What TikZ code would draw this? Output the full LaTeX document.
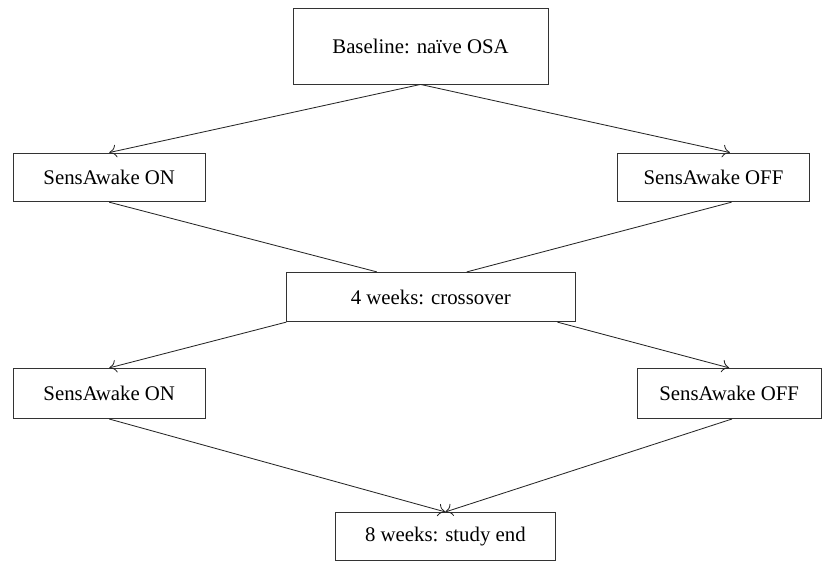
\documentclass[tikz,border=0pt]{standalone}
\usepackage{fontspec}
\setmainfont{Liberation Serif}
\usetikzlibrary{calc,arrows.meta}

\begin{document}
\begin{tikzpicture}[box/.style={draw=black!80,line width=0.6pt,inner sep=0pt,minimum height=1.22cm,font=\fontsize{14.8}{18}\selectfont},
  link/.style={black!85,line width=0.6pt},
  tip/.style={-{To[length=1.8mm,width=3.2mm]}}]
\useasboundingbox (0,0) rectangle (20.55,-14.075);
\node[box,minimum width=6.375cm,minimum height=1.9cm] (base) at (10.5125,-1.15) {Baseline: naïve OSA};
\node[box,minimum width=4.81cm] (onA) at (2.731,-4.434) {SensAwake ON};
\node[box,minimum width=4.82cm] (offA) at (17.8375,-4.434) {SensAwake OFF};
\node[box,minimum width=7.21cm,minimum height=1.235cm] (cross) at (10.771,-7.425) {4 weeks: crossover};
\node[box,minimum width=4.81cm,minimum height=1.257cm] (onB) at (2.731,-9.836) {SensAwake ON};
\node[box,minimum width=4.59cm,minimum height=1.257cm] (offB) at (18.229,-9.836) {SensAwake OFF};
\node[box,minimum width=5.52cm,minimum height=1.19cm] (stop) at (11.134,-13.404) {8 weeks: study end};
\draw[link,tip] (base.south) -- (onA.north);
\draw[link,tip] (base.south) -- ([xshift=0.41cm]offA.north);
\draw[link] (onA.south) -- ([xshift=-1.35cm]cross.north);
\draw[link] ([xshift=0.45cm]offA.south) -- ([xshift=0.9cm]cross.north);
\draw[link,tip] (cross.south west) -- (onB.north);
\draw[link,tip] ([xshift=-0.45cm]cross.south east) -- (offB.north);
\draw[link,tip] (onB.south) -- (stop.north);
\draw[link,tip] ([xshift=0.07cm]offB.south) -- (stop.north);
\end{tikzpicture}
\end{document}
